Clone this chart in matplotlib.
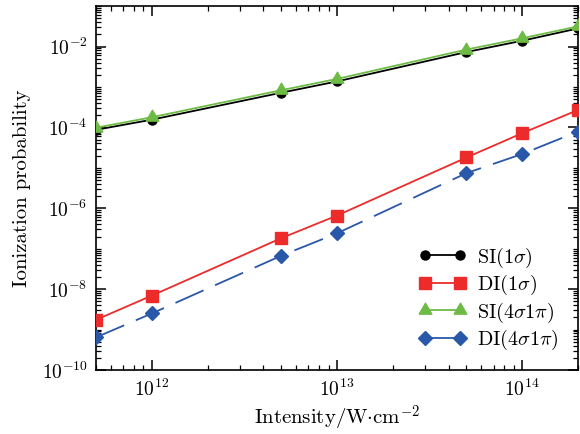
import matplotlib
matplotlib.use("Agg")
import matplotlib.pyplot as plt
from matplotlib.lines import Line2D
from matplotlib.ticker import FixedLocator, LogLocator, NullFormatter, LogFormatterSciNotation

plt.rcParams['font.family'] = 'cmr10'
plt.rcParams['mathtext.fontset'] = 'cm'
plt.rcParams['axes.formatter.use_mathtext'] = True

# Laser intensity (W/cm^2)
intensity = [5e11, 1e12, 5e12, 1e13, 5e13, 1e14, 2e14]

# Ionization probabilities
si_1sigma = [8.7e-5, 1.55e-4, 7.2e-4, 1.37e-3, 7.3e-3, 1.39e-2, 2.8e-2]
di_1sigma = [1.74e-9, 6.9e-9, 1.82e-7, 6.6e-7, 1.8e-5, 7.2e-5, 2.7e-4]
si_4s1p = [9.8e-5, 1.78e-4, 8.3e-4, 1.58e-3, 8.4e-3, 1.6e-2, 3.15e-2]
di_4s1p = [6.4e-10, 2.5e-9, 6.7e-8, 2.4e-7, 7.4e-6, 2.2e-5, 7.9e-5]

labels = [r'SI(1$\sigma$)', r'DI(1$\sigma$)', r'SI(4$\sigma$1$\pi$)', r'DI(4$\sigma$1$\pi$)']

c_black = '#000000'
c_red = '#ee2b2b'
c_green = '#6dbb45'
c_blue = '#2a58a8'

# equilateral triangle centred on its centroid
tri = [(-1.0, -0.577), (1.0, -0.577), (0.0, 1.155), (-1.0, -0.577)]

fig = plt.figure(figsize=(5.8, 4.34), dpi=100)
ax = fig.add_axes([0.1655, 0.1475, 0.8311, 0.8385])

lw = 1.3
styles = [
    dict(color=c_black, marker='o', ms=6.5),
    dict(color=c_red, marker='s', ms=8),
    dict(color=c_green, marker=tri, ms=10.5),
    dict(color=c_blue, marker='D', ms=7),
]

ax.plot(intensity, si_1sigma, lw=lw, zorder=3, **styles[0])
ax.plot(intensity, si_4s1p, lw=lw, zorder=4, **styles[2])
ax.plot(intensity, di_1sigma, lw=lw, zorder=3, **styles[1])
ax.plot(intensity, di_4s1p, lw=lw, zorder=3, dashes=(17, 7), **styles[3])

ax.set_xscale('log')
ax.set_yscale('log')
ax.set_xlim(5e11, 2e14)
ax.set_ylim(1e-10, 1e-1)

ax.yaxis.set_major_locator(FixedLocator([1e-10, 1e-8, 1e-6, 1e-4, 1e-2]))
ax.yaxis.set_major_formatter(LogFormatterSciNotation())
ax.yaxis.set_minor_locator(LogLocator(base=10, subs=range(1, 10), numticks=50))
ax.yaxis.set_minor_formatter(NullFormatter())
ax.xaxis.set_minor_locator(LogLocator(base=10, subs=range(2, 10), numticks=50))
ax.xaxis.set_minor_formatter(NullFormatter())

ax.tick_params(which='both', direction='in', top=True, right=True, labelsize=14)
ax.tick_params(which='major', length=7, width=1.1, pad=6)
ax.tick_params(which='minor', length=3.5, width=0.9)
for s in ax.spines.values():
    s.set_linewidth(1.2)

ax.set_xlabel(r'Intensity/W$\cdot$cm$^{-2}$', fontsize=15, labelpad=3)
ax.set_ylabel('Ionization probability', fontsize=15, labelpad=8)

handles = [Line2D([], [], lw=lw, **st) for st in styles]
ax.legend(handles, labels, loc='lower right', bbox_to_anchor=(0.96, 0.049),
          borderaxespad=0, borderpad=0, frameon=False, numpoints=2,
          handlelength=2.34, handletextpad=0.54, labelspacing=0.17,
          fontsize=14.5)

fig.savefig('out.png', dpi=100)
